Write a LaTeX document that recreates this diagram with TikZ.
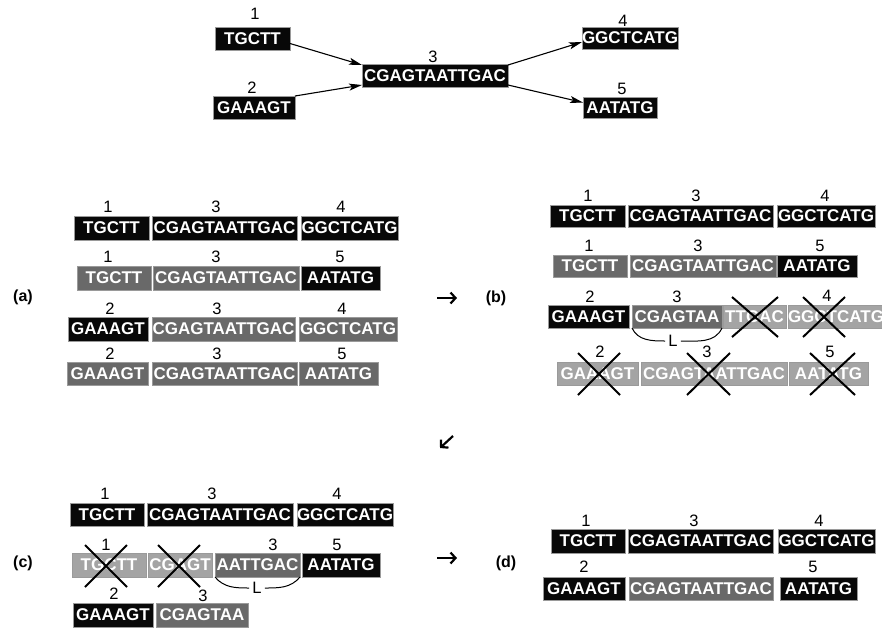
\documentclass[tikz,border=0pt]{standalone}
\usepackage{fontspec}
\setmainfont{Liberation Sans}
\usetikzlibrary{arrows.meta}
\definecolor{blk}{HTML}{080808}
\definecolor{mid}{HTML}{696969}
\definecolor{lgt}{HTML}{A4A4A4}
\definecolor{edge}{HTML}{9A9A9A}
\newcommand\segfont{\fontsize{17}{19}\bfseries\selectfont}
\newcommand\numfont{\fontsize{16.5}{18}\selectfont}
\newcommand\seg[7]{\node[segbox,fill=#6,minimum width={#3-#2},minimum height={#5-#4},anchor=north west] (#1) at (#2,#4) {#7};}
\newcommand\num[4]{\node[numtxt] (#1) at (#2,#3) {#4};}
\tikzset{
  segbox/.style={inner sep=0pt, outer sep=0pt, text=white, font=\segfont, draw=edge, line width=0.5pt},
  numtxt/.style={inner sep=0pt, font=\numfont},
  panel/.style={inner sep=0pt, font=\fontsize{16}{18}\bfseries\selectfont},
  crossline/.style={line width=2pt},
  flow/.style={line width=1.1pt, -{Stealth[length=13pt,width=7pt,inset=3pt]}},
  stepar/.style={line width=2.2pt, -{Straight Barb[length=5pt,width=11pt]}},
  brace/.style={line width=1pt}
}
\begin{document}
\begin{tikzpicture}[x=1pt,y=-1pt]
\useasboundingbox (0,0) rectangle (882,630);
% ---------- top graph ----------
\seg{t1}{215}{290}{27}{50}{blk}{TGCTT}
\seg{t2}{213}{295}{96}{119}{blk}{GAAAGT}
\seg{t3}{362}{508}{64}{87}{blk}{CGAGTAATTGAC}
\seg{t4}{582}{677}{27}{49}{blk}{GGCTCATG}
\seg{t5}{583}{657}{97}{118}{blk}{AATATG}
\num{lt1}{255}{14}{1}
\num{lt2}{252}{88}{2}
\num{lt3}{433}{57}{3}
\num{lt4}{623}{21}{4}
\num{lt5}{622}{89}{5}
\draw[flow] ([yshift=-5pt]t1.east) -- ([yshift=-1pt]t3.north west);
\draw[flow] (t2.north east) -- ([yshift=2pt]t3.south west);
\draw[flow] ([yshift=-1pt]t3.north east) -- ([yshift=-4pt]t4.west);
\draw[flow] ([yshift=2pt]t3.south east) -- ([yshift=5pt]t5.west);
% ---------- panel (a) ----------
\node[panel] (pa) at (23,297) {(a)};
\seg{a11}{74}{149}{216}{240}{blk}{TGCTT}
\seg{a13}{152}{297}{216}{240}{blk}{CGAGTAATTGAC}
\seg{a14}{301}{398}{216}{240}{blk}{GGCTCATG}
\num{la11}{108}{207}{1}\num{la13}{216}{207}{3}\num{la14}{341}{207}{4}
\seg{a21}{77}{151}{266}{290}{mid}{TGCTT}
\seg{a23}{153}{299}{266}{290}{mid}{CGAGTAATTGAC}
\seg{a25}{301}{380}{266}{290}{blk}{AATATG}
\num{la21}{108}{257}{1}\num{la23}{216}{257}{3}\num{la25}{340}{257}{5}
\seg{a32}{68}{148}{317}{341}{blk}{GAAAGT}
\seg{a33}{152}{295}{317}{341}{mid}{CGAGTAATTGAC}
\seg{a34}{299}{397}{317}{341}{mid}{GGCTCATG}
\num{la32}{110}{309}{2}\num{la33}{217}{309}{3}\num{la34}{342}{309}{4}
\seg{a42}{67}{148}{362}{385}{mid}{GAAAGT}
\seg{a43}{152}{297}{362}{385}{mid}{CGAGTAATTGAC}
\seg{a45}{299}{378}{362}{385}{mid}{AATATG}
\num{la42}{110}{354}{2}\num{la43}{217}{354}{3}\num{la45}{342}{354}{5}
% arrow a -> b
\coordinate (ab1) at (437,298); \coordinate (ab2) at (457,298);
\draw[stepar] (ab1) -- (ab2);
% ---------- panel (b) ----------
\node[panel] (pb) at (496,298) {(b)};
\seg{b11}{550}{625}{205}{227}{blk}{TGCTT}
\seg{b13}{628}{773}{205}{227}{blk}{CGAGTAATTGAC}
\seg{b14}{777}{875}{205}{227}{blk}{GGCTCATG}
\num{lb11}{588}{196}{1}\num{lb13}{696}{196}{3}\num{lb14}{825}{196}{4}
\seg{b21}{553}{627}{255}{277}{mid}{TGCTT}
\seg{b23}{630}{776}{255}{277}{mid}{CGAGTAATTGAC}
\seg{b25}{777}{857}{255}{277}{blk}{AATATG}
\num{lb21}{589}{246}{1}\num{lb23}{698}{246}{3}\num{lb25}{820}{246}{5}
\seg{b32}{548}{629}{305}{328}{blk}{GAAAGT}
\seg{b33}{632}{722}{305}{328}{mid}{CGAGTAA}
\seg{b33r}{723}{786}{305}{328}{lgt}{TTGAC}
\seg{b34}{788}{882}{305}{328}{lgt}{GGCTCATG}
\num{lb32}{590}{297}{2}\num{lb33}{677}{297}{3}\num{lb34}{827}{296}{4}
\node[numtxt] (bL) at (673,341) {L};
\draw[brace] (b33.south west) to[out=-65,in=180] ([xshift=-3pt]bL.west);
\draw[brace] ([xshift=3pt]bL.east) to[out=0,in=-115] (b33.south east);
\seg{b42}{557}{638}{362}{385}{lgt}{GAAAGT}
\seg{b43}{641}{787}{362}{385}{lgt}{CGAGTAATTGAC}
\seg{b45}{789}{868}{362}{385}{lgt}{AATATG}
\num{lb42}{600}{352}{2}\num{lb43}{707}{352}{3}\num{lb45}{830}{352}{5}
% crosses (b)
\draw[crossline] (732,297) -- (778,337) (778,297) -- (732,337);
\draw[crossline] (803,297) -- (845,337) (845,297) -- (803,337);
\draw[crossline] (578,353) -- (620,395) (620,353) -- (578,395);
\draw[crossline] (687,353) -- (730,395) (730,353) -- (687,395);
\draw[crossline] (810,353) -- (855,395) (855,353) -- (810,395);
% arrow b -> c
\coordinate (bc1) at (453,436); \coordinate (bc2) at (440,448);
\draw[stepar] (bc1) -- (bc2);
% ---------- panel (c) ----------
\node[panel] (pc) at (23,563) {(c)};
\seg{c11}{70}{144}{503}{526}{blk}{TGCTT}
\seg{c13}{147}{293}{503}{526}{blk}{CGAGTAATTGAC}
\seg{c14}{297}{393}{503}{526}{blk}{GGCTCATG}
\num{lc11}{105}{494}{1}\num{lc13}{212}{494}{3}\num{lc14}{337}{494}{4}
\seg{c21}{72}{146}{553}{577}{lgt}{TGCTT}
\seg{c22}{148}{212}{553}{577}{lgt}{CGAGT}
\seg{c23}{215}{300}{553}{577}{mid}{AATTGAC}
\seg{c25}{302}{380}{553}{577}{blk}{AATATG}
\num{lc21}{106}{545}{1}\num{lc23}{273}{545}{3}\num{lc25}{337}{545}{5}
\node[numtxt] (cL) at (257,588) {L};
\draw[brace] (c23.south west) to[out=-50,in=180] ([xshift=-3pt]cL.west);
\draw[brace] ([xshift=3pt]cL.east) to[out=0,in=-130] (c23.south east);
\num{lc32}{114}{594}{2}\num{lc33}{203}{596}{3}
\seg{c32}{73}{153}{603}{627}{blk}{GAAAGT}
\seg{c33}{156}{248}{603}{627}{mid}{CGAGTAA}
\draw[crossline] (85,545) -- (127,587) (127,545) -- (85,587);
\draw[crossline] (158,545) -- (200,587) (200,545) -- (158,587);
% arrow c -> d
\coordinate (cd1) at (437,558); \coordinate (cd2) at (457,558);
\draw[stepar] (cd1) -- (cd2);
% ---------- panel (d) ----------
\node[panel] (pd) at (506,563) {(d)};
\seg{d11}{551}{625}{529}{553}{blk}{TGCTT}
\seg{d13}{628}{773}{529}{553}{blk}{CGAGTAATTGAC}
\seg{d14}{778}{875}{529}{553}{blk}{GGCTCATG}
\num{ld11}{586}{521}{1}\num{ld13}{694}{521}{3}\num{ld14}{819}{521}{4}
\seg{d22}{543}{625}{577}{600}{blk}{GAAAGT}
\seg{d23}{629}{773}{577}{600}{mid}{CGAGTAATTGAC}
\seg{d25}{780}{857}{577}{600}{blk}{AATATG}
\num{ld22}{584}{567}{2}\num{ld25}{813}{567}{5}
\end{tikzpicture}
\end{document}
